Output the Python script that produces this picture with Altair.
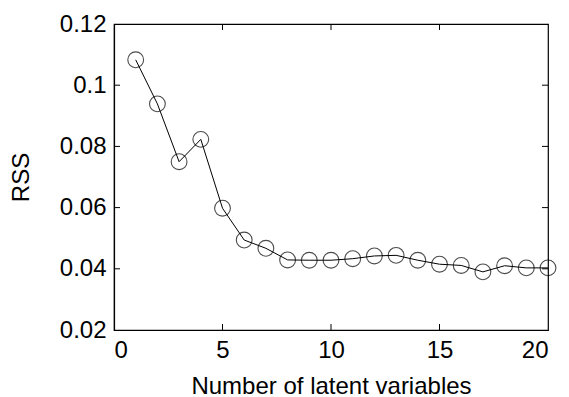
import altair as alt
import pandas as pd

n_lv = list(range(1, 21))
rss = [0.1083, 0.0939, 0.0750, 0.0823, 0.0598, 0.0494, 0.0467, 0.0429, 0.0428, 0.0428,
       0.0433, 0.0442, 0.0444, 0.0428, 0.0415, 0.0411, 0.0390, 0.0410, 0.0403, 0.0403]
x_ticks = [0, 5, 10, 15, 20]
y_ticks = [0.02, 0.04, 0.06, 0.08, 0.10, 0.12]

W, H = 434, 306
TL = 6
FONT = "Liberation Sans"
FS = 24

df = pd.DataFrame({"n": n_lv, "rss": rss})
xs = alt.Scale(domain=[0, 20], nice=False)
ys = alt.Scale(domain=[0.02, 0.12], nice=False)

base = alt.Chart(df)
line = base.mark_line(color="black", strokeWidth=1).encode(
    x=alt.X("n:Q", scale=xs, title="Number of latent variables",
            axis=alt.Axis(values=x_ticks, format="d", grid=False, ticks=False,
                          domainColor="black", domainWidth=1.2,
                          labelFont=FONT, labelFontSize=FS, labelColor="black",
                          labelPadding=8, titleFont=FONT, titleFontSize=FS,
                          titleFontWeight="normal", titleColor="black", titlePadding=12)),
    y=alt.Y("rss:Q", scale=ys, title="RSS",
            axis=alt.Axis(values=y_ticks, format=".2~f", grid=False, ticks=False,
                          domainColor="black", domainWidth=1.2,
                          labelFont=FONT, labelFontSize=FS, labelColor="black",
                          labelPadding=8, titleFont=FONT, titleFontSize=FS,
                          titleFontWeight="normal", titleColor="black", titlePadding=26)),
)
pts = base.mark_point(shape="circle", filled=False, color="black", size=250, strokeWidth=1.1).encode(
    x=alt.X("n:Q", scale=xs), y=alt.Y("rss:Q", scale=ys))

xt = pd.DataFrame({"v": x_ticks[1:-1]})
yt = pd.DataFrame({"v": y_ticks[1:-1]})
tick_style = dict(color="black", strokeWidth=1)
xb = alt.Chart(xt).mark_rule(**tick_style).encode(x=alt.X("v:Q", scale=xs), y=alt.value(H), y2=alt.value(H - TL))
xtop = alt.Chart(xt).mark_rule(**tick_style).encode(x=alt.X("v:Q", scale=xs), y=alt.value(0), y2=alt.value(TL))
yl = alt.Chart(yt).mark_rule(**tick_style).encode(y=alt.Y("v:Q", scale=ys), x=alt.value(0), x2=alt.value(TL))
yr = alt.Chart(yt).mark_rule(**tick_style).encode(y=alt.Y("v:Q", scale=ys), x=alt.value(W), x2=alt.value(W - TL))

chart = alt.layer(line, pts, xb, xtop, yl, yr).properties(
    width=W, height=H,
    autosize=alt.AutoSizeParams(type="none"),
    padding={"left": 114, "top": 24, "right": 21, "bottom": 67},
    background="white",
).configure_view(stroke="black", strokeWidth=1.2)

chart.save("out.html", embed_options={"renderer": "svg", "actions": False})
